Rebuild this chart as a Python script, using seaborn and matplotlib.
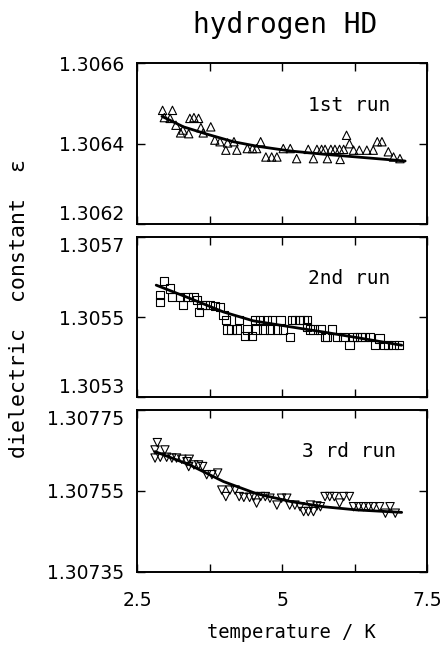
import matplotlib
matplotlib.use('Agg')
import numpy as np
import pandas as pd
import seaborn as sns
import matplotlib.pyplot as plt
from matplotlib.ticker import FixedLocator

# run 1 (triangles)
t1 = [2.94, 3.11, 2.97, 3.07, 3.17, 3.29, 3.39, 3.25, 3.41, 3.48, 3.56, 3.60, 3.64,
      3.77, 3.84, 3.93, 4.03, 4.06, 4.17, 4.22, 4.40, 4.49, 4.56, 4.63, 4.72, 4.82,
      4.91, 5.02, 5.14, 5.25, 5.45, 5.54, 5.60, 5.68, 5.74, 5.78, 5.84, 5.91, 5.99,
      6.00, 6.06, 6.11, 6.16, 6.23, 6.33, 6.46, 6.57, 6.64, 6.72, 6.83, 6.92, 7.03]
eps1 = [1.306483, 1.306483, 1.306465, 1.306463, 1.306446, 1.306434, 1.306425, 1.306427,
        1.306463, 1.306465, 1.306463, 1.306440, 1.306427, 1.306442, 1.306409, 1.306405,
        1.306384, 1.306402, 1.306405, 1.306384, 1.306388, 1.306388, 1.306388, 1.306405,
        1.306367, 1.306367, 1.306367, 1.306388, 1.306388, 1.306363, 1.306386, 1.306363,
        1.306386, 1.306386, 1.306386, 1.306363, 1.306386, 1.306386, 1.306386, 1.306361,
        1.306386, 1.306421, 1.306400, 1.306384, 1.306384, 1.306384, 1.306384, 1.306405,
        1.306405, 1.306380, 1.306367, 1.306363]
fit_t1 = [2.93, 3.30, 3.70, 4.16, 4.56, 5.14, 5.71, 6.29, 7.12]
fit_eps1 = [1.306468, 1.306442, 1.306424, 1.306405, 1.306394, 1.306382, 1.306374,
            1.306367, 1.306357]

# run 2 (squares)
t2 = [2.97, 2.89, 2.89, 3.07, 3.10, 3.24, 3.29, 3.37, 3.47, 3.53, 3.57, 3.61, 3.67,
      3.76, 3.84, 3.93, 3.99, 4.03, 4.06, 4.13, 4.22, 4.26, 4.39, 4.36, 4.48, 4.53,
      4.56, 4.62, 4.68, 4.74, 4.79, 4.82, 4.91, 4.97, 5.02, 5.13, 5.17, 5.22, 5.30,
      5.37, 5.43, 5.43, 5.48, 5.54, 5.66, 5.74, 5.77, 5.86, 5.94, 6.06, 6.16, 6.23,
      6.29, 6.35, 6.43, 6.52, 6.60, 6.68, 6.75, 6.83, 6.92, 7.01]
eps2 = [1.305591, 1.305555, 1.305538, 1.305572, 1.305551, 1.305551, 1.305530, 1.305551,
        1.305551, 1.305543, 1.305513, 1.305530, 1.305530, 1.305530, 1.305528, 1.305526,
        1.305505, 1.305493, 1.305469, 1.305469, 1.305469, 1.305493, 1.305469, 1.305453,
        1.305453, 1.305493, 1.305469, 1.305493, 1.305469, 1.305493, 1.305469, 1.305493,
        1.305469, 1.305493, 1.305469, 1.305451, 1.305493, 1.305493, 1.305493, 1.305493,
        1.305493, 1.305476, 1.305469, 1.305469, 1.305469, 1.305451, 1.305451, 1.305469,
        1.305451, 1.305451, 1.305430, 1.305451, 1.305451, 1.305451, 1.305451, 1.305451,
        1.305430, 1.305447, 1.305430, 1.305430, 1.305430, 1.305430]
fit_t2 = [2.83, 3.41, 3.99, 4.50, 5.14, 5.71, 6.29, 7.06]
fit_eps2 = [1.305580, 1.305547, 1.305513, 1.305491, 1.305476, 1.305463, 1.305449, 1.305430]

# run 3 (down triangles)
t3 = [2.85, 2.81, 2.81, 2.90, 2.98, 3.01, 3.10, 3.18, 3.27, 3.36, 3.40, 3.39, 3.48,
      3.56, 3.63, 3.70, 3.79, 3.89, 3.96, 4.03, 4.10, 4.19, 4.26, 4.34, 4.44, 4.51,
      4.56, 4.63, 4.71, 4.79, 4.91, 4.99, 5.08, 5.13, 5.22, 5.31, 5.37, 5.45, 5.54,
      5.49, 5.60, 5.66, 5.74, 5.82, 5.90, 5.99, 6.06, 6.16, 6.23, 6.32, 6.40, 6.49,
      6.57, 6.68, 6.78, 6.86, 6.95]
eps3 = [1.307669, 1.307651, 1.307631, 1.307633, 1.307651, 1.307633, 1.307631, 1.307631,
        1.307628, 1.307622, 1.307628, 1.307610, 1.307614, 1.307614, 1.307610, 1.307590,
        1.307590, 1.307594, 1.307552, 1.307536, 1.307552, 1.307552, 1.307536, 1.307534,
        1.307534, 1.307536, 1.307520, 1.307536, 1.307536, 1.307532, 1.307515, 1.307532,
        1.307532, 1.307515, 1.307515, 1.307511, 1.307499, 1.307499, 1.307499, 1.307515,
        1.307513, 1.307511, 1.307536, 1.307536, 1.307536, 1.307520, 1.307536, 1.307536,
        1.307511, 1.307511, 1.307511, 1.307511, 1.307511, 1.307511, 1.307495, 1.307511,
        1.307495]
fit_t3 = [2.81, 3.41, 3.99, 4.56, 5.14, 5.71, 6.29, 7.06]
fit_eps3 = [1.307647, 1.307614, 1.307573, 1.307543, 1.307524, 1.307511, 1.307503, 1.307497]

run_labels = ['1st run', '2nd run', '3 rd run']
markers = ['^', 's', 'v']
y_ticks = [[1.3062, 1.3064, 1.3066], [1.3053, 1.3055, 1.3057], [1.30735, 1.30755, 1.30775]]
y_ticklabels = [['1.3062', '1.3064', '1.3066'], ['1.3053', '1.3055', '1.3057'],
                ['1.30735', '1.30755', '1.30775']]
x_ticks = [2.5, 5, 7.5]
x_ticklabels = ['2.5', '5', '7.5']
x_minor = [3.75, 6.25]

sns.set_style('ticks')
# letter-spaced look of the original lettering
plt.rcParams['font.family'] = ['DejaVu Sans Mono', 'DejaVu Sans']
plt.rcParams['text.color'] = 'black'
plt.rcParams['xtick.color'] = 'black'
plt.rcParams['ytick.color'] = 'black'
plt.rcParams['axes.edgecolor'] = 'black'

fig = plt.figure(figsize=(4.45, 6.46), dpi=100)
boxes = [[0.308, 0.653, 0.652, 0.249],
         [0.308, 0.385, 0.652, 0.248],
         [0.308, 0.1146, 0.652, 0.251]]

runs = [(t1, eps1, fit_t1, fit_eps1), (t2, eps2, fit_t2, fit_eps2), (t3, eps3, fit_t3, fit_eps3)]

for i, (t, eps, ft, feps) in enumerate(runs):
    ax = fig.add_axes(boxes[i])
    df = pd.DataFrame({'T': t, 'eps': eps})
    fit = pd.DataFrame({'T': ft, 'eps': feps})
    sns.scatterplot(data=df, x='T', y='eps', marker=markers[i], s=36, color='none',
                    edgecolor='black', linewidth=0.8, ax=ax, zorder=2)
    sns.lineplot(data=fit, x='T', y='eps', color='black', linewidth=2.0, ax=ax,
                 sort=False, zorder=3)
    ax.set_xlim(2.5, 7.5)
    ax.set_ylim(y_ticks[i][0], y_ticks[i][2])
    ax.set_yticks(y_ticks[i])
    ax.set_yticklabels(y_ticklabels[i], fontsize=13.5, color='black', family='DejaVu Sans')
    ax.set_xticks(x_ticks)
    ax.xaxis.set_minor_locator(FixedLocator(x_minor))
    if i == 2:
        ax.set_xticklabels(x_ticklabels, fontsize=13.5, color='black', family='DejaVu Sans')
    else:
        ax.set_xticklabels([])
    ax.tick_params(which='both', direction='in', top=True, right=True, length=6,
                   width=1.0)
    ax.tick_params(axis='y', pad=9)
    ax.tick_params(axis='x', pad=14)
    # keep neighbouring panel labels apart, as in the original figure
    labs = ax.get_yticklabels()
    if i > 0:
        labs[2].set_verticalalignment('top')
    if i < 2:
        labs[0].set_verticalalignment('bottom')
    ax.set_xlabel('')
    ax.set_ylabel('')
    for sp in ax.spines.values():
        sp.set_linewidth(1.4)
        sp.set_color('black')
    ax.text(0.73, 0.74, run_labels[i], transform=ax.transAxes, ha='center',
            va='center', fontsize=14)

fig.text(0.64, 0.962, 'hydrogen HD', ha='center', va='center', fontsize=20)
fig.text(0.043, 0.523, 'dielectric  constant  ε', ha='center', va='center',
         rotation=90, fontsize=15.5)
fig.text(0.655, 0.021, 'temperature / K', ha='center', va='center', fontsize=13.5)

fig.savefig('out.png', dpi=100)
